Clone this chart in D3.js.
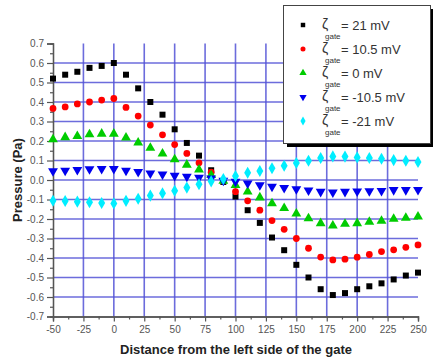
<!DOCTYPE html>
<html>
<head>
<meta charset="utf-8">
<script src="https://cdn.jsdelivr.net/npm/d3@7"></script>
<style>
  body { margin: 0; background: #fff; }
  svg { display: block; font-family: Arial, "Liberation Sans", sans-serif; }
</style>
</head>
<body>
<svg id="chart" width="433" height="360"></svg>
<script>
// distance from the left side of the gate
const distances = [-50, -40, -30, -20, -10, 0, 10, 20, 30, 40, 50, 60, 70, 80, 90, 100,
  110, 120, 130, 140, 150, 160, 170, 180, 190, 200, 210, 220, 230, 240, 250];

const zeta21 = [0.52, 0.54, 0.555, 0.575, 0.585, 0.60, 0.54, 0.47, 0.40, 0.335, 0.26, 0.19, 0.125, 0.05, -0.01,
  -0.085, -0.155, -0.22, -0.295, -0.36, -0.435, -0.50, -0.56, -0.59, -0.58, -0.56, -0.545, -0.53, -0.51, -0.49, -0.475];
const zeta10 = [0.367, 0.375, 0.39, 0.40, 0.41, 0.418, 0.372, 0.328, 0.282, 0.232, 0.182, 0.136, 0.088, 0.04, -0.005,
  -0.06, -0.107, -0.155, -0.208, -0.253, -0.30, -0.35, -0.395, -0.41, -0.406, -0.396, -0.382, -0.367, -0.358, -0.345, -0.333];
const zeta0 = [0.208, 0.219, 0.225, 0.234, 0.237, 0.237, 0.217, 0.191, 0.164, 0.135, 0.105, 0.078, 0.053, 0.025, -0.005,
  -0.026, -0.06, -0.09, -0.12, -0.145, -0.173, -0.197, -0.222, -0.234, -0.225, -0.222, -0.215, -0.21, -0.2, -0.195, -0.188];
const zetaM10 = [0.046, 0.048, 0.052, 0.056, 0.057, 0.057, 0.048, 0.042, 0.034, 0.029, 0.022, 0.017, 0.012, 0.008, -0.003,
  -0.008, -0.017, -0.026, -0.034, -0.04, -0.046, -0.053, -0.06, -0.063, -0.06, -0.058, -0.057, -0.055, -0.051, -0.051, -0.05];
const zetaM21 = [-0.106, -0.108, -0.111, -0.114, -0.118, -0.12, -0.107, -0.096, -0.08, -0.068, -0.055, -0.039, -0.022, -0.007, 0.005,
  0.02, 0.037, 0.046, 0.06, 0.073, 0.087, 0.099, 0.113, 0.121, 0.12, 0.116, 0.113, 0.109, 0.102, 0.099, 0.092];

const seriesLabels = ["= 21 mV", "= 10.5 mV", "= 0 mV", "= -10.5 mV", "= -21 mV"];
const xTicks = [-50, -25, 0, 25, 50, 75, 100, 125, 150, 175, 200, 225, 250];
const yTicks = [0.7, 0.6, 0.5, 0.4, 0.3, 0.2, 0.1, 0.0, -0.1, -0.2, -0.3, -0.4, -0.5, -0.6, -0.7];

const series = [
  {values: zeta21, label: seriesLabels[0], color: "#000000", symbol: d3.symbolSquare, size: 36, rot: 0},
  {values: zeta10, label: seriesLabels[1], color: "#ff0000", symbol: d3.symbolCircle, size: 36, rot: 0},
  {values: zeta0, label: seriesLabels[2], color: "#00cc00", symbol: d3.symbolTriangle, size: 42, rot: 0},
  {values: zetaM10, label: seriesLabels[3], color: "#0000ee", symbol: d3.symbolTriangle, size: 42, rot: 180},
  {values: zetaM21, label: seriesLabels[4], color: "#00eeff", symbol: d3.symbolDiamond, size: 42, rot: 0}
];

const dims = {left: 53, right: 418, top: 43.5, bottom: 316.5};
const svg = d3.select("#chart");

const x = d3.scaleLinear().domain([-50, 250]).range([dims.left, dims.right]);
const y = d3.scaleLinear().domain([-0.7, 0.7]).range([dims.bottom, dims.top]);

// plain hyphen instead of d3's unicode minus
const fmtX = d => String(d);
const fmtY = d => d3.format(".1f")(d).replace("\u2212", "-");

// grid
const grid = svg.append("g").attr("stroke", "#5252d6").attr("stroke-width", 1.6).attr("stroke-opacity", 0.85);
grid.selectAll("line.v")
  .data(xTicks.filter(d => d > -50 && d < 250))
  .join("line")
  .attr("x1", d => x(d)).attr("x2", d => x(d))
  .attr("y1", dims.top).attr("y2", dims.bottom);
grid.selectAll("line.h")
  .data(yTicks.filter(d => d > -0.7 && d < 0.7))
  .join("line")
  .attr("x1", dims.left).attr("x2", dims.right)
  .attr("y1", d => y(d)).attr("y2", d => y(d));

// axes
const axisColor = "#555";
svg.append("g")
  .attr("transform", `translate(0,${dims.bottom})`)
  .call(d3.axisBottom(x).tickValues(xTicks).tickSize(5).tickPadding(4).tickFormat(fmtX));
svg.append("g")
  .attr("transform", `translate(${dims.left},0)`)
  .call(d3.axisLeft(y).tickValues(yTicks).tickSize(6).tickPadding(3).tickFormat(fmtY));

// minor ticks
svg.append("g").attr("transform", `translate(0,${dims.bottom})`)
  .call(d3.axisBottom(x).tickValues(xTicks.slice(0, -1).map(d => d + 12.5)).tickSize(3).tickFormat(""));
svg.append("g").attr("transform", `translate(${dims.left},0)`)
  .call(d3.axisLeft(y).tickValues(yTicks.slice(0, -1).map(d => d - 0.05)).tickSize(3).tickFormat(""));

svg.selectAll(".domain").attr("stroke", axisColor).attr("stroke-width", 1.3);
svg.selectAll(".tick line").attr("stroke", axisColor).attr("stroke-width", 1.2);
svg.selectAll(".tick text").attr("fill", "#555").style("font-size", "10px");

// points
series.forEach(s => {
  svg.append("g")
    .selectAll("path")
    .data(distances.map((d, i) => [d, s.values[i]]))
    .join("path")
    .attr("transform", d => `translate(${x(d[0])},${y(d[1])}) rotate(${s.rot})`)
    .attr("d", d3.symbol(s.symbol, s.size))
    .attr("fill", s.color);
});

// axis titles
svg.append("text")
  .attr("x", 236)
  .attr("y", 354)
  .attr("text-anchor", "middle")
  .style("font-size", "13px").style("font-weight", "bold").attr("fill", "#222")
  .text("Distance from the left side of the gate");
svg.append("text")
  .attr("transform", `translate(22,${(dims.top + dims.bottom) / 2}) rotate(-90)`)
  .attr("text-anchor", "middle")
  .style("font-size", "13px").style("font-weight", "bold").attr("fill", "#222")
  .text("Pressure (Pa)");

// legend
const legend = svg.append("g");
legend.append("rect").attr("x", 287).attr("y", 9).attr("width", 150).attr("height", 138).attr("fill", "#000");
legend.append("rect").attr("x", 283.5).attr("y", 5.5).attr("width", 147).attr("height", 138)
  .attr("fill", "#fff").attr("stroke", "#444").attr("stroke-width", 1);

const rows = legend.selectAll("g.row")
  .data(series)
  .join("g")
  .attr("transform", (d, i) => `translate(0,${25 + i * 24})`);
rows.append("path")
  .attr("transform", d => `translate(303,0) rotate(${d.rot})`)
  .attr("d", d => d3.symbol(d.symbol, d.size * 0.55)())
  .attr("fill", d => d.color);
rows.append("text").attr("x", 322).attr("y", 4).attr("fill", "#333")
  .style("font-size", "14px").text("ζ");
rows.append("text").attr("x", 325).attr("y", 14).attr("fill", "#333")
  .style("font-size", "8px").text("gate");
rows.append("text").attr("x", 341).attr("y", 5).attr("fill", "#333")
  .style("font-size", "13px").text(d => d.label);
</script>
</body>
</html>
